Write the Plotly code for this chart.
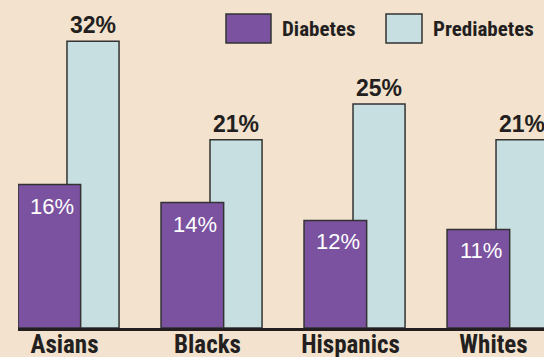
import plotly.graph_objects as go

categories = ["Asians", "Blacks", "Hispanics", "Whites"]
diabetes = [16, 14, 12, 11]
prediabetes = [32, 21, 25, 21]
series_names = ["Diabetes", "Prediabetes"]

BG = "#F2E2CE"
PURPLE = "#7B52A0"
LIGHT = "#C7DFE0"
EDGE = "#333333"
TXT = "#231F20"
NARROW = "Liberation Sans Narrow, Arial Narrow, Roboto Condensed, Liberation Sans"
REG = "Liberation Sans, Arial, Helvetica"

W, H = 544, 357
ML, MB = 18, 29
PW, PH = W - ML, H - MB

fig = go.Figure()
fig.add_trace(go.Bar(
    x=categories, y=prediabetes, name=series_names[1],
    marker=dict(color=LIGHT, line=dict(color=EDGE, width=1.5)),
    offset=0.0175, width=0.364, showlegend=False, hoverinfo="skip",
))
fig.add_trace(go.Bar(
    x=categories, y=diabetes, name=series_names[0],
    marker=dict(color=PURPLE, line=dict(color=EDGE, width=1.5)),
    offset=-0.325, width=0.438, showlegend=False, hoverinfo="skip",
))

annotations = []
for c, v in zip(categories, prediabetes):
    annotations.append(dict(
        x=c, y=v, xref="x", yref="y", text=f"<b>{v}%</b>", showarrow=False,
        xanchor="center", yanchor="bottom", xshift=28.5, yshift=1,
        font=dict(family=REG, size=23, color=TXT),
    ))
for c, v in zip(categories, diabetes):
    annotations.append(dict(
        x=c, y=v, xref="x", yref="y", text=f"{v}%", showarrow=False,
        xanchor="center", yanchor="top", xshift=-12.5, yshift=-7,
        font=dict(family=REG, size=22, color="white"),
    ))

def px2paper_x(px):
    return (px - ML) / PW

def px2paper_y(py):
    return (PH - py) / PH

shapes = [
    dict(type="rect", xref="paper", yref="paper",
         x0=px2paper_x(226), x1=px2paper_x(271), y0=px2paper_y(43), y1=px2paper_y(14),
         fillcolor=PURPLE, line=dict(color=EDGE, width=1.5)),
    dict(type="rect", xref="paper", yref="paper",
         x0=px2paper_x(386), x1=px2paper_x(422), y0=px2paper_y(43), y1=px2paper_y(14),
         fillcolor=LIGHT, line=dict(color=EDGE, width=1.5)),
]
annotations.append(dict(
    x=px2paper_x(280), y=px2paper_y(28.5), xref="paper", yref="paper",
    text=f"<b>{series_names[0]}</b>", showarrow=False, xanchor="left", yanchor="middle",
    font=dict(family=NARROW, size=21, color=TXT),
))
annotations.append(dict(
    x=px2paper_x(431), y=px2paper_y(28.5), xref="paper", yref="paper",
    text=f"<b>{series_names[1]}</b>", showarrow=False, xanchor="left", yanchor="middle",
    font=dict(family=NARROW, size=21, color=TXT),
))

fig.update_layout(
    width=W, height=H,
    margin=dict(l=ML, r=0, t=0, b=MB, pad=0),
    paper_bgcolor=BG, plot_bgcolor=BG,
    barmode="overlay",
    showlegend=False,
    shapes=shapes,
    annotations=annotations,
    xaxis=dict(
        type="category", range=[-0.325, 3.353], showline=True, linecolor=TXT, linewidth=3,
        showgrid=False, zeroline=False, ticks="", automargin=False,
        tickmode="array", tickvals=categories,
        ticktext=[f"<b>{c}</b>" for c in categories],
        ticklabelstandoff=-8,
        tickfont=dict(family=NARROW, size=25, color=TXT),
    ),
    yaxis=dict(
        range=[0, 36.6], visible=False, showgrid=False, zeroline=False,
    ),
)

fig.write_html("out.html")
